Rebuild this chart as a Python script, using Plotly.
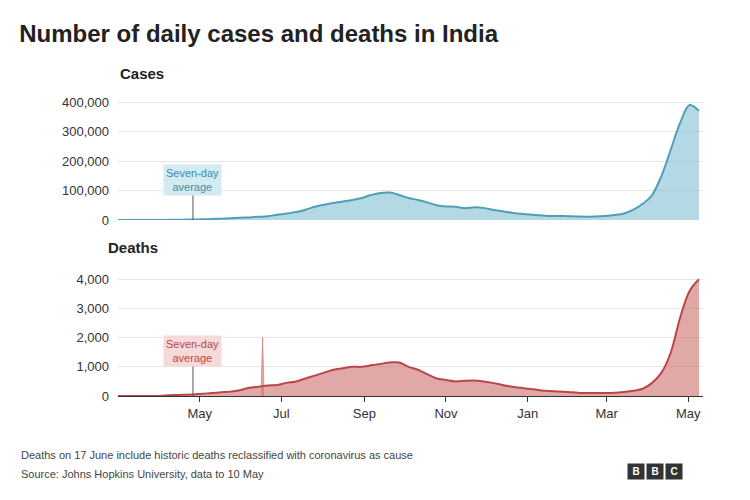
import pandas as pd
import plotly.graph_objects as go
from plotly.subplots import make_subplots

# weekly points, 1 Mar 2020 to 9 May 2021
dates = pd.date_range("2020-03-01", "2021-05-09", freq="7D")

cases = [0, 5, 10, 50, 100,
         500, 900, 1300, 1700,
         2500, 3500, 4500, 6000, 7500,
         9000, 11000, 13000, 18000,
         22000, 27000, 35000, 45000,
         52000, 58000, 63000, 68000, 75000,
         85000, 92000, 93000, 85000,
         75000, 68000, 60000, 50000,
         46000, 45000, 40000, 43000, 41000,
         35000, 30000, 25000, 21000,
         19000, 16000, 14000, 14000, 13000,
         12000, 11500, 12000, 14000,
         17000, 22000, 35000, 55000,
         85000, 150000, 240000, 330000,
         390000, 370000]

deaths = [0, 0, 0, 1, 3,
          15, 30, 40, 50,
          80, 100, 130, 150, 200,
          280, 320, 360, 380,
          450, 500, 600, 700,
          800, 900, 950, 1000, 1000,
          1050, 1100, 1150, 1150,
          1000, 900, 750, 600,
          550, 500, 520, 530, 500,
          450, 380, 320, 280,
          240, 200, 170, 150, 140,
          110, 100, 100, 100,
          110, 140, 180, 250,
          450, 800, 1500, 2700,
          3600, 4000]

# reclassified deaths on 17 June
spike_dates = ["2020-06-16", "2020-06-17", "2020-06-18"]
spike_vals = [360, 2000, 360]

case_line, case_fill = "#4f9fb8", "rgba(120,185,205,0.55)"
death_line, death_fill = "#b9474a", "rgba(205,110,110,0.6)"

fig = make_subplots(rows=2, cols=1, shared_xaxes=True, vertical_spacing=0.16)

fig.add_trace(go.Scatter(x=dates, y=cases, mode="lines", line=dict(color=case_line, width=2, shape="spline"),
                         fill="tozeroy", fillcolor=case_fill), row=1, col=1)
fig.add_trace(go.Scatter(x=spike_dates, y=spike_vals, mode="lines", line=dict(color=death_fill, width=1),
                         fill="tozeroy", fillcolor=death_fill), row=2, col=1)
fig.add_trace(go.Scatter(x=dates, y=deaths, mode="lines", line=dict(color=death_line, width=2, shape="spline"),
                         fill="tozeroy", fillcolor=death_fill), row=2, col=1)

fig.update_layout(
    width=750, height=500, showlegend=False,
    plot_bgcolor="white", paper_bgcolor="white",
    margin=dict(l=110, r=55, t=82, b=112),
    font=dict(family="Liberation Sans", size=13, color="#333"),
    title=dict(text="<b>Number of daily cases and deaths in India</b>", x=0.015, y=0.965,
               font=dict(size=24, color="#222")),
)
fig.update_yaxes(row=1, col=1, range=[0, 420000], tickvals=[0, 100000, 200000, 300000, 400000],
                 tickformat=",", domain=[0.575, 0.98])
fig.update_yaxes(row=2, col=1, range=[0, 4300], tickvals=[0, 1000, 2000, 3000, 4000],
                 tickformat=",", domain=[0.0, 0.41])
fig.update_yaxes(showgrid=True, gridcolor="#e6e6e6", zeroline=False, ticks="", ticklabelstandoff=8)
fig.update_xaxes(range=["2020-03-01", "2021-05-12"], showgrid=False, zeroline=False)
fig.update_xaxes(row=2, col=1, tickvals=["2020-05-01", "2020-07-01", "2020-09-01", "2020-11-01",
                                         "2021-01-01", "2021-03-01", "2021-05-01"],
                 ticktext=["May", "Jul", "Sep", "Nov", "Jan", "Mar", "May"],
                 ticks="outside", ticklen=5, tickcolor="#333", showline=True, linecolor="#333")

fig.add_annotation(text="<b>Cases</b>", xref="paper", yref="paper", x=0.0, y=1.02, xanchor="left",
                   yanchor="bottom", showarrow=False, font=dict(size=15, color="#222"))
fig.add_annotation(text="<b>Deaths</b>", xref="paper", yref="paper", x=-0.02, y=0.45, xanchor="left",
                   yanchor="bottom", showarrow=False, font=dict(size=15, color="#222"))

for r, col, bg, ay in [(1, "#3d8ea8", "#d3eaf1", -40), (2, "#b9474a", "#f6dada", -45)]:
    fig.add_annotation(text="Seven-day<br>average", x="2020-04-26", y=0, row=r, col=1,
                       showarrow=True, arrowhead=0, arrowcolor="#555", arrowwidth=1, ax=0, ay=ay,
                       bgcolor=bg, font=dict(size=11, color=col), borderpad=2)

fig.add_annotation(text="Deaths on 17 June include historic deaths reclassified with coronavirus as cause",
                   xref="paper", yref="paper", x=-0.17, y=-0.22, xanchor="left", showarrow=False,
                   font=dict(size=11, color="#444"))
fig.add_annotation(text="Source: Johns Hopkins University, data to 10 May",
                   xref="paper", yref="paper", x=-0.17, y=-0.28, xanchor="left", showarrow=False,
                   font=dict(size=11, color="#444"))

# BBC blocks
for i, letter in enumerate("BBC"):
    fig.add_annotation(text="<b>%s</b>" % letter, xref="paper", yref="paper", x=0.9 + i * 0.033, y=-0.275,
                       showarrow=False, bgcolor="#333", borderpad=2, width=12,
                       font=dict(size=10, color="white"))

fig.write_html("out.html")
